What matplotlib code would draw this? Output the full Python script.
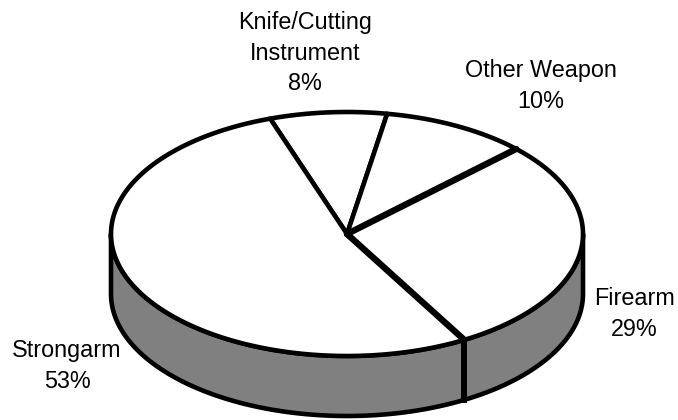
import numpy as np
import matplotlib.pyplot as plt
from matplotlib.patches import Polygon

plt.rcParams['font.family'] = ['Liberation Sans', 'DejaVu Sans']

# data
labels = ['Knife/Cutting\nInstrument', 'Other Weapon', 'Firearm', 'Strongarm']
shares = [8, 10, 29, 53]

# layout (pixels)
label_xy = [(305, 53), (541, 86), (634, 314), (67, 366)]
cx, cy, rx, ry, depth = 347, 234, 236, 122, 60
start = 109.0  # degrees, slices go clockwise

fig = plt.figure(figsize=(6.78, 4.2), dpi=100)
ax = fig.add_axes([0, 0, 1, 1])
ax.set_xlim(0, 678)
ax.set_ylim(420, 0)
ax.axis('off')


def pt(t, dy=0.0):
    r = np.radians(t)
    return cx + rx * np.cos(r), cy - ry * np.sin(r) + dy


# side wall (front half only)
t = np.linspace(180, 360, 200)
top = np.array([pt(a) for a in t])
bot = np.array([pt(a, depth) for a in t[::-1]])
ax.add_patch(Polygon(np.vstack([top, bot]), closed=True, facecolor='#808080',
                     edgecolor='black', lw=3.3, joinstyle='round', zorder=1))

# top face slices
cum = np.concatenate([[0], np.cumsum(shares)]) / sum(shares)
bounds = start - 360 * cum
for i in range(len(shares)):
    arc = np.linspace(bounds[i], bounds[i + 1], 150)
    poly = [(cx, cy)] + [pt(a) for a in arc]
    ax.add_patch(Polygon(poly, closed=True, facecolor='white', edgecolor='black',
                         lw=3.3, joinstyle='round', zorder=2))

# thicker spokes like the original
for b in bounds[2:4]:
    x1, y1 = pt(b)
    ax.plot([cx, x1], [cy, y1], color='black', lw=4.6, solid_capstyle='round', zorder=3)

# vertical edges on the side wall where a slice boundary is in front
for b in bounds[:-1]:
    if np.sin(np.radians(b)) < 0:
        x1, y1 = pt(b)
        ax.plot([x1, x1], [y1, y1 + depth], color='black', lw=4.3, zorder=3)

for lab, s, (x, y) in zip(labels, shares, label_xy):
    ax.text(x, y, f'{lab}\n{s}%', ha='center', va='center', fontsize=16.8,
            linespacing=1.4, color='black')

fig.savefig('out.png', dpi=100)
